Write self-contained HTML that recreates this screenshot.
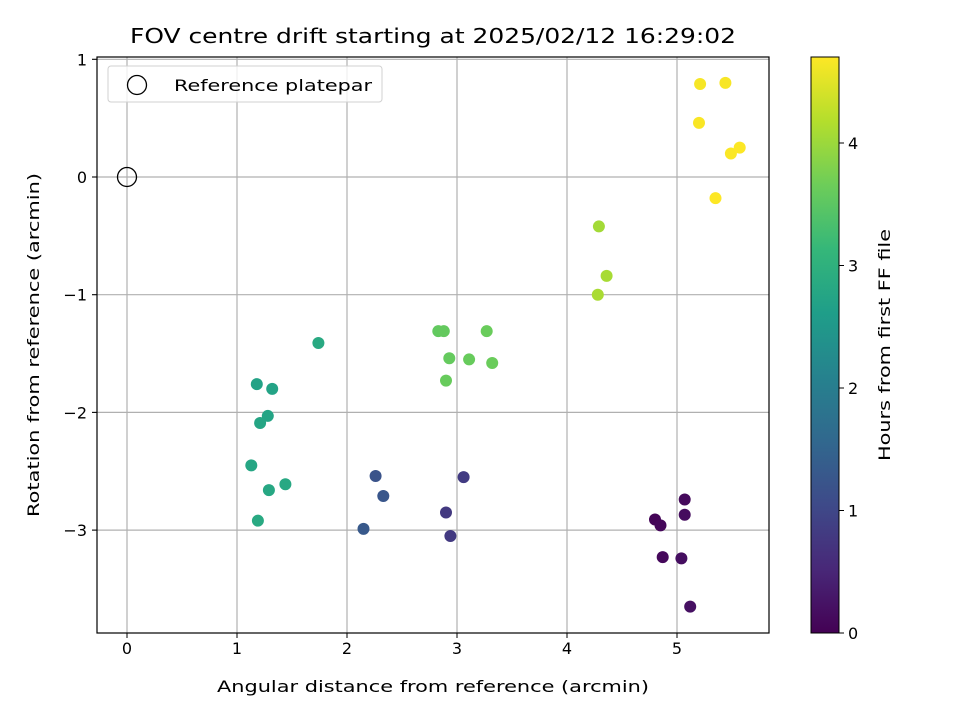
<!DOCTYPE html>
<html><head><meta charset="utf-8"><style>
body{margin:0;background:#fff;font-family:"Liberation Sans","DejaVu Sans",sans-serif}
svg text{font-family:"DejaVu Sans","Liberation Sans",sans-serif;fill:#000}
</style></head><body>
<svg id="c" width="960" height="720"></svg>
<script>
const xs=[4.80,4.85,4.87,5.07,5.07,5.04,5.12, 2.90,2.94,3.06, 2.26,2.33,2.15,
 1.18,1.32,1.28,1.21,1.13,1.29,1.44,1.19,1.74,
 2.83,2.88,2.93,3.11,2.90,3.27,3.32, 4.29,4.36,4.28,
 5.21,5.44,5.20,5.49,5.57,5.35];
const ys=[-2.91,-2.96,-3.23,-2.74,-2.87,-3.24,-3.65, -2.85,-3.05,-2.55, -2.54,-2.71,-2.99,
 -1.76,-1.80,-2.03,-2.09,-2.45,-2.66,-2.61,-2.92,-1.41,
 -1.31,-1.31,-1.54,-1.55,-1.73,-1.31,-1.58, -0.42,-0.84,-1.00,
 0.79,0.80,0.46,0.20,0.25,-0.18];
const hours=[0.05,0.08,0.1,0.12,0.15,0.18,0.2, 0.78,0.8,0.82, 1.2,1.25,1.3,
 2.7,2.72,2.74,2.76,2.78,2.8,2.82,2.84,2.85,
 3.55,3.57,3.58,3.6,3.6,3.62,3.63, 4.05,4.08,4.1,
 4.65,4.66,4.67,4.68,4.69,4.7];
const xTicks=[0,1,2,3,4,5];
const yTicks=[1,0,-1,-2,-3];
const cTicks=[0,1,2,3,4];
const L=97,R=769,T=57,B=633;
const X=v=>127+110*v, Y=v=>177-117.7*v;
const CB=v=>633-122.5*v;
const VM=4.7;
const stops=[[68,1,84],[72,40,120],[62,74,137],[49,104,142],[38,130,142],[31,158,137],[53,183,121],[109,205,89],[180,222,44],[253,231,37]];
function vir(t){t=Math.max(0,Math.min(1,t))*9;const i=Math.min(8,Math.floor(t)),f=t-i;const a=stops[i],b=stops[i+1];return `rgb(${a.map((v,k)=>Math.round(v+(b[k]-v)*f)).join(',')})`;}
const s=document.getElementById('c');const NS='http://www.w3.org/2000/svg';
function el(tag,at,name,txt){const e=document.createElementNS(NS,tag);for(const k in at)e.setAttribute(k,at[k]);


if(txt!=null)e.textContent=txt;s.appendChild(e);return e;}
xTicks.forEach(v=>{el('line',{x1:X(v),x2:X(v),y1:T,y2:B,stroke:'#b0b0b0','stroke-width':1.2},'x-grid-line');
el('line',{x1:X(v),x2:X(v),y1:B,y2:B+5,stroke:'#000'},'x-tick');
el('text',{x:X(v),y:B+21,'text-anchor':'middle','font-size':'16px'},'x-tick-label',v);});
yTicks.forEach(v=>{el('line',{x1:L-5,x2:R,y1:Y(v),y2:Y(v),stroke:'#b0b0b0','stroke-width':1.2},'y-grid-line');
el('line',{x1:L-5,x2:L,y1:Y(v),y2:Y(v),stroke:'#000'},'y-tick');
el('text',{x:L-10,y:Y(v)+6,'text-anchor':'end','font-size':'16px'},'y-tick-label',v<0?'\u2212'+(-v):v);});
xs.forEach((x,i)=>el('circle',{cx:X(x),cy:Y(ys[i]),r:6,fill:vir(hours[i]/VM)},'data-point'));
el('circle',{cx:X(0),cy:Y(0),r:9.5,fill:'none',stroke:'#000','stroke-width':1.3},'reference-platepar-marker');
el('rect',{x:L,y:T,width:R-L,height:B-T,fill:'none',stroke:'#000','stroke-width':1.2},'plot-frame');
el('rect',{x:108,y:66,width:274,height:36,rx:3,fill:'#fff','fill-opacity':0.8,stroke:'#d0d0d0'},'legend');
el('circle',{cx:137,cy:85,r:9.5,fill:'none',stroke:'#000','stroke-width':1.3},'legend-marker');
el('text',{x:174,y:91,'font-size':'16px',textLength:198,lengthAdjust:'spacingAndGlyphs'},'legend-label','Reference platepar');
el('text',{x:433,y:43,'text-anchor':'middle','font-size':'20px',textLength:606,lengthAdjust:'spacingAndGlyphs'},'chart-title','FOV centre drift starting at 2025/02/12 16:29:02');
el('text',{x:433,y:692,'text-anchor':'middle','font-size':'16px',textLength:432,lengthAdjust:'spacingAndGlyphs'},'x-axis-title','Angular distance from reference (arcmin)');
el('text',{x:39,y:345,'text-anchor':'middle','font-size':'16px',textLength:344,lengthAdjust:'spacingAndGlyphs',transform:'rotate(-90 39 345)'},'y-axis-title','Rotation from reference (arcmin)');
const d=el('defs',{},'defs');
const g=document.createElementNS(NS,'linearGradient');g.setAttribute('id','vg');g.setAttribute('x1',0);g.setAttribute('y1',1);g.setAttribute('x2',0);g.setAttribute('y2',0);
stops.forEach((c,i)=>{const st=document.createElementNS(NS,'stop');st.setAttribute('offset',i/9);st.setAttribute('stop-color',`rgb(${c.join(',')})`);g.appendChild(st);});d.appendChild(g);
el('rect',{x:811,y:T,width:28,height:B-T,fill:'url(#vg)',stroke:'#000','stroke-width':1},'colorbar');
cTicks.forEach(v=>{el('line',{x1:839,x2:844,y1:CB(v),y2:CB(v),stroke:'#000'},'colorbar-tick');
el('text',{x:848,y:CB(v)+6,'font-size':'16px'},'colorbar-tick-label',v);});
el('text',{x:890,y:345,'text-anchor':'middle','font-size':'16px',textLength:232,lengthAdjust:'spacingAndGlyphs',transform:'rotate(-90 890 345)'},'colorbar-title','Hours from first FF file');
</script></body></html>
